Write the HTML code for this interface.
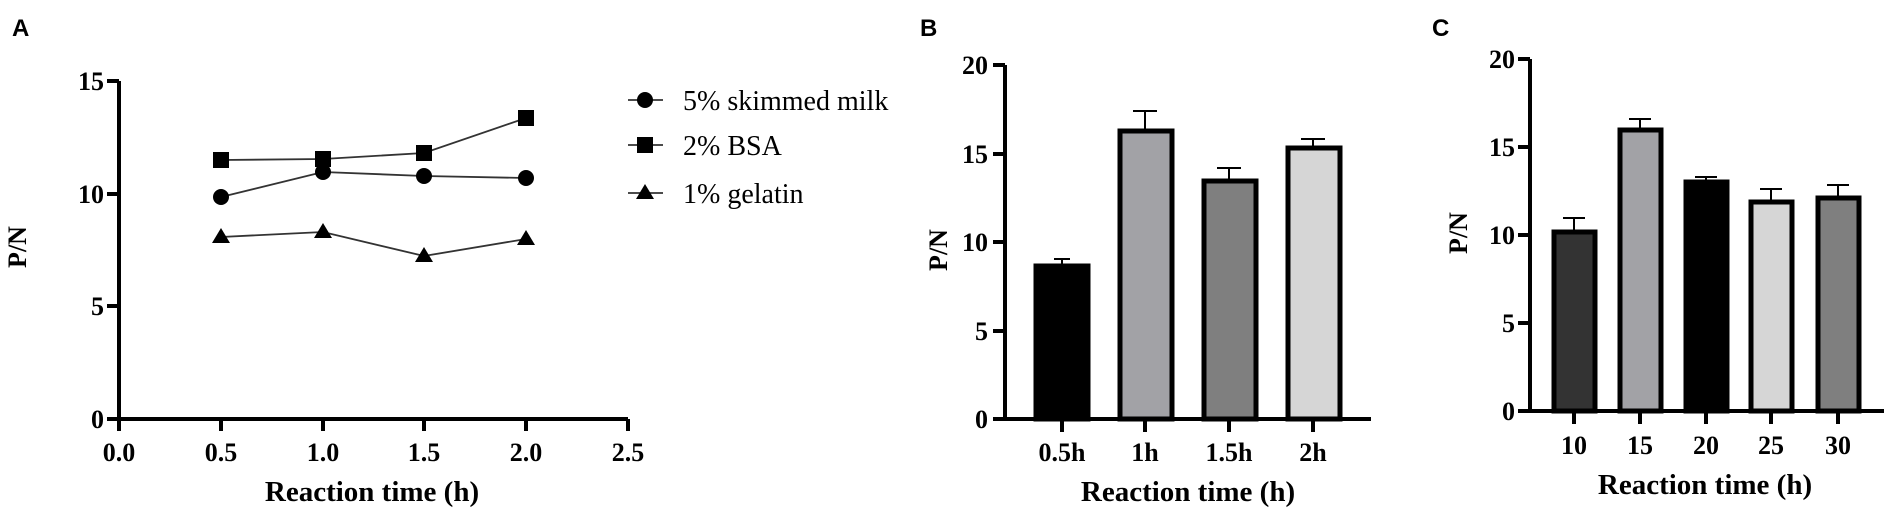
<!DOCTYPE html>
<html><head><meta charset="utf-8"><style>
html,body{margin:0;padding:0;background:#fff;}
svg{display:block;}
.t{font-family:"Liberation Serif",serif;font-weight:bold;font-size:26px;fill:#000;}
.lg{font-family:"Liberation Serif",serif;font-size:28px;fill:#000;}
.L{font-family:"Liberation Sans",sans-serif;font-weight:bold;font-size:24px;fill:#000;}
.ti{font-size:29px;}
</style></head><body>
<svg width="1890" height="513" viewBox="0 0 1890 513" xmlns="http://www.w3.org/2000/svg">
<!-- Panel A -->
<text class="L" x="12" y="36">A</text>
<g stroke="#000" stroke-width="4" fill="none">
<path d="M119 81 V419 H628"/>
<path d="M107 81H119 M107 194H119 M107 306H119 M107 419H119"/>
<path d="M119 419V431 M221 419V431 M323 419V431 M424 419V431 M526 419V431 M628 419V431"/>
</g>
<g class="t" text-anchor="end">
<text x="104" y="90">15</text><text x="104" y="203">10</text><text x="104" y="315">5</text><text x="104" y="428">0</text>
</g>
<g class="t" text-anchor="middle">
<text x="119" y="461">0.0</text><text x="221" y="461">0.5</text><text x="323" y="461">1.0</text><text x="424" y="461">1.5</text><text x="526" y="461">2.0</text><text x="628" y="461">2.5</text>
<text class="ti" x="372" y="501">Reaction time (h)</text>
</g>
<text class="t" transform="translate(26,247) rotate(-90)" text-anchor="middle">P/N</text>
<g stroke="#333" stroke-width="1.8" fill="none">
<polyline points="221,197 323,172 424,176 526,178"/>
<polyline points="221,160 323,159 424,153 526,118"/>
<polyline points="221,237 323,232 424,256 526,239"/>
<path d="M628 100H663 M628 145H663 M628 193H663"/>
</g>
<g fill="#000">
<circle cx="221" cy="197" r="8"/><circle cx="323" cy="172" r="8"/><circle cx="424" cy="176" r="8"/><circle cx="526" cy="178" r="8"/>
<rect x="213" y="152" width="16" height="16"/><rect x="315" y="151" width="16" height="16"/><rect x="416" y="145" width="16" height="16"/><rect x="518" y="110" width="16" height="16"/>
<path d="M221 228l9 15h-18z M323 223l9 15h-18z M424 247l9 15h-18z M526 230l9 15h-18z"/>
<circle cx="645" cy="100" r="8"/><rect x="637" y="137" width="16" height="16"/><path d="M645 184l9 15h-18z"/>
</g>
<text class="lg" x="683" y="110">5% skimmed milk</text>
<text class="lg" x="683" y="155">2% BSA</text>
<text class="lg" x="683" y="203">1%  gelatin</text>

<!-- Panel B -->
<text class="L" x="920" y="36">B</text>
<g class="t" text-anchor="end">
<text x="988" y="74">20</text><text x="988" y="163">15</text><text x="988" y="251">10</text><text x="988" y="340">5</text><text x="988" y="428">0</text>
</g>
<g stroke="#000" stroke-width="4" fill="none">
<path d="M993 65H1005 M993 154H1005 M993 242H1005 M993 331H1005"/>
</g>
<g stroke="#000" stroke-width="2">
<path d="M1062 266V259 M1054 259H1070"/>
<path d="M1145 130V111 M1133 111H1157"/>
<path d="M1229 180V168 M1217 168H1241"/>
<path d="M1313 148V139 M1301 139H1325"/>
</g>
<g stroke="#000" stroke-width="5">
<rect x="1036" y="266" width="52" height="153" fill="#000"/>
<rect x="1120" y="131" width="52" height="288" fill="#a2a2a6"/>
<rect x="1204" y="181" width="52" height="238" fill="#7f7f7f"/>
<rect x="1288" y="148" width="52" height="271" fill="#d6d6d6"/>
</g>
<g stroke="#000" stroke-width="4" fill="none">
<path d="M1005 65V419 H1371 M993 419H1005"/>
<path d="M1062 419V432 M1145 419V432 M1229 419V432 M1313 419V432"/>
</g>
<g class="t" text-anchor="middle">
<text x="1062" y="461">0.5h</text><text x="1145" y="461">1h</text><text x="1229" y="461">1.5h</text><text x="1313" y="461">2h</text>
<text class="ti" x="1188" y="501">Reaction time (h)</text>
</g>
<text class="t" transform="translate(947,250) rotate(-90)" text-anchor="middle">P/N</text>

<!-- Panel C -->
<text class="L" x="1432" y="36">C</text>
<g class="t" text-anchor="end">
<text x="1515" y="68">20</text><text x="1515" y="156">15</text><text x="1515" y="244">10</text><text x="1515" y="332">5</text><text x="1515" y="420">0</text>
</g>
<g stroke="#000" stroke-width="4" fill="none">
<path d="M1518 59H1530 M1518 147H1530 M1518 235H1530 M1518 323H1530"/>
</g>
<g stroke="#000" stroke-width="2">
<path d="M1574 232V218 M1563 218H1585"/>
<path d="M1640 130V119 M1629 119H1651"/>
<path d="M1706 182V177 M1695 177H1717"/>
<path d="M1771 202V189 M1760 189H1782"/>
<path d="M1838 198V185 M1827 185H1849"/>
</g>
<g stroke="#000" stroke-width="5">
<rect x="1554" y="232" width="41" height="179" fill="#333"/>
<rect x="1620" y="130" width="41" height="281" fill="#a2a2a6"/>
<rect x="1686" y="182" width="41" height="229" fill="#000"/>
<rect x="1751" y="202" width="41" height="209" fill="#d6d6d6"/>
<rect x="1818" y="198" width="41" height="213" fill="#7f7f7f"/>
</g>
<g stroke="#000" stroke-width="4" fill="none">
<path d="M1530 59V411 H1884 M1518 411H1530"/>
<path d="M1574 411V424 M1640 411V424 M1706 411V424 M1771 411V424 M1838 411V424"/>
</g>
<g class="t" text-anchor="middle">
<text x="1574" y="454">10</text><text x="1640" y="454">15</text><text x="1706" y="454">20</text><text x="1771" y="454">25</text><text x="1838" y="454">30</text>
<text class="ti" x="1705" y="494">Reaction time (h)</text>
</g>
<text class="t" transform="translate(1467,233) rotate(-90)" text-anchor="middle">P/N</text>
</svg>
</body></html>
